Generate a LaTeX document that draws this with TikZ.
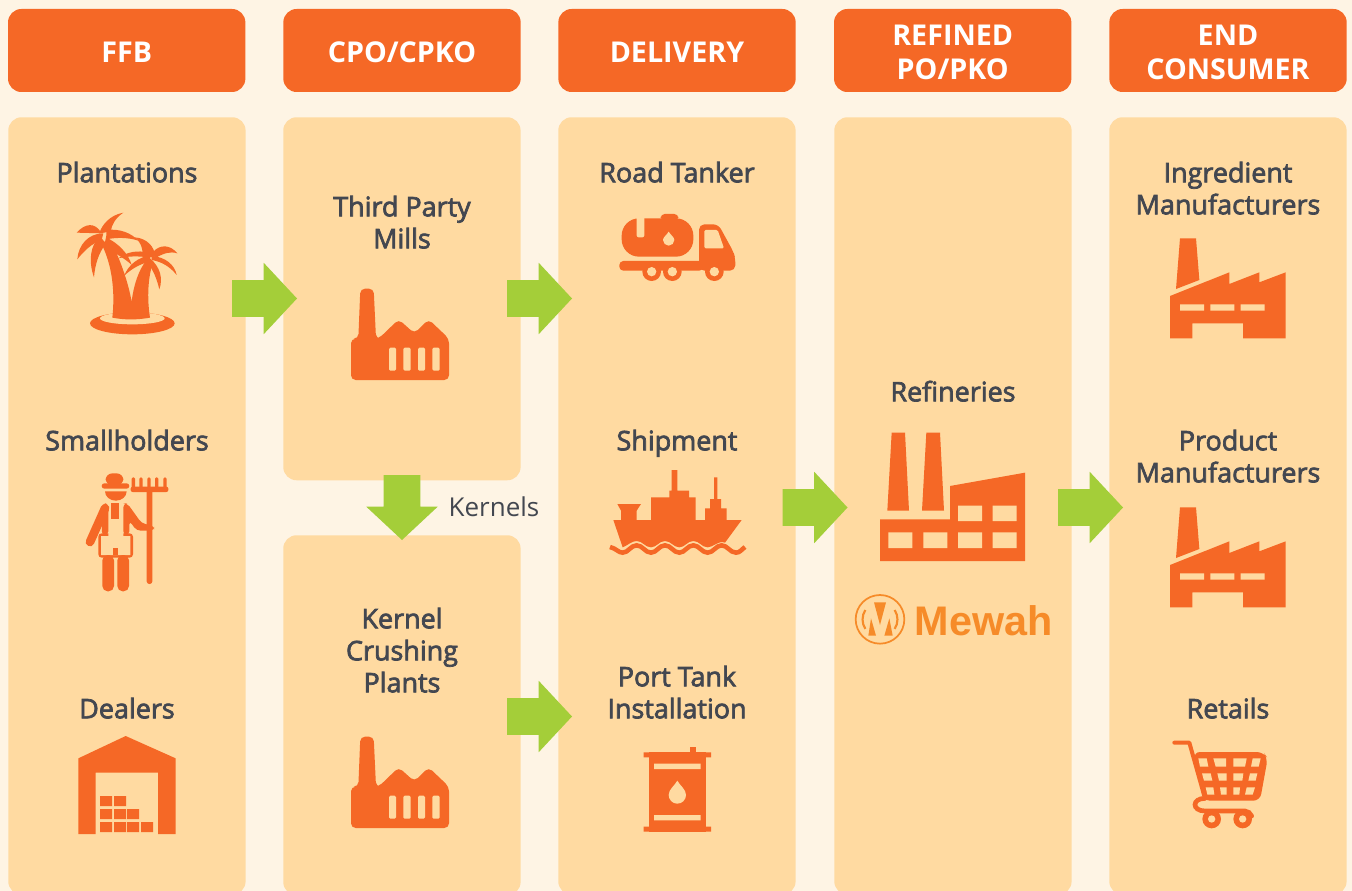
\documentclass[tikz,border=0pt]{standalone}
\usepackage{fontspec}
\setmainfont{Open Sans}
\newfontfamily\labelfont[FakeBold=2.6]{Open Sans}
\newfontfamily\logofont{Liberation Sans}
\usetikzlibrary{shapes.arrows}
\definecolor{bgcream}{HTML}{FEF4E4}
\definecolor{panelsand}{HTML}{FFDAA1}
\definecolor{barorange}{HTML}{F56826}
\definecolor{arrowgreen}{HTML}{A4CE39}
\definecolor{labelgrey}{HTML}{434750}
\definecolor{logoorange}{HTML}{F68B29}
\tikzset{
  zoomed/.style={shift={(#1)},x=.25pt,y=-.25pt},
  headbox/.style={fill=barorange,rounded corners=10pt,minimum width=178pt,minimum height=62.25pt,inner sep=0pt},
  headtext/.style={text=white,inner sep=0pt,align=center,yshift=-1.5pt,font=\fontsize{21.5}{25}\selectfont\bfseries},
  panel/.style={fill=panelsand,rounded corners=10pt,minimum width=178pt,anchor=north west,inner sep=0pt},
  label/.style={text=labelgrey,align=center,inner sep=0pt,text depth=0pt,yshift=.7pt,font=\fontsize{20.2}{24}\labelfont},
  flow/.style={fill=arrowgreen,single arrow,single arrow head extend=13.1pt,single arrow tip angle=94,anchor=tail,
    minimum height=48.75pt,text height=27pt,text depth=0pt,inner sep=0pt,outer sep=0pt},
  pics/millplant/.style={code={
    \begin{scope}[x=.25pt,y=-.25pt]
    \fill[barorange,rounded corners=3.5pt] (63,300) -- (63,176) -- (85,176) -- (91,26) -- (131,26) -- (138,176) -- (146,176)
      -- (206,118) -- (253,160) -- (296,118) -- (357,176) -- (357,300) -- cycle;
    \fill[panelsand,rounded corners=1pt] (177,203) rectangle (198,272) (220,203) rectangle (242,272)
      (264,203) rectangle (285,272) (307,203) rectangle (329,272);
    \end{scope}}},
  pics/makerplant/.style={code={
    \begin{scope}[x=.25pt,y=-.25pt]
    \fill[barorange] (90,55) -- (138,55) -- (148,180) -- (78,207) -- cycle;
    \fill[barorange] (60,228) -- (238,157) -- (238,192) -- (328,157) -- (328,187) -- (407,157) -- (407,355)
      -- (279,355) -- (279,310) -- (127,310) -- (127,355) -- (60,355) -- cycle;
    \fill[panelsand] (90,253) rectangle (162,272) (181,253) rectangle (253,272) (272,253) rectangle (344,272);
    \end{scope}}}
}
\begin{document}
\begin{tikzpicture}[x=.75pt,y=-.75pt]
\useasboundingbox (0,0) rectangle (1352,891);
\clip (0,0) rectangle (1352,891);
\fill[bgcream] (0,0) rectangle (1352,891);
% headers
\node[headbox] (headFFB) at (126.7,50.5) {};
\node[headbox] (headCPO) at (402,50.5) {};
\node[headbox] (headDelivery) at (677,50.5) {};
\node[headbox] (headRefined) at (952.7,50.5) {};
\node[headbox] (headEnd) at (1228,50.5) {};
\node[headtext] (textFFB) at (headFFB) {FFB};
\node[headtext] (textCPO) at (headCPO) {CPO/CPKO};
\node[headtext] (textDelivery) at (headDelivery) {DELIVERY};
\node[headtext] (textRefined) at (headRefined) {REFINED\\PO/PKO};
\node[headtext] (textEnd) at (headEnd) {END\\CONSUMER};
% panels
\node[panel,minimum height=583pt] (panelFFB) at (8,117) {};
\node[panel,minimum height=272.25pt] (panelMills) at (283,117) {};
\node[panel,minimum height=270pt] (panelKernel) at (283,535) {};
\node[panel,minimum height=583pt] (panelDelivery) at (558,117) {};
\node[panel,minimum height=583pt] (panelRefined) at (834,117) {};
\node[panel,minimum height=583pt] (panelEnd) at (1109,117) {};
% labels
\node[label] (plantations) at (127,173) {Plantations};
\node[label] (smallholders) at (127,441) {Smallholders};
\node[label] (dealers) at (127,709) {Dealers};
\node[label] (mills) at (402,223) {Third Party\\Mills};
\node[label] (crushing) at (402,651) {Kernel\\Crushing\\Plants};
\node[label] (tanker) at (677,173) {Road Tanker};
\node[label] (shipment) at (677,441) {Shipment};
\node[label] (tank) at (677,693) {Port Tank\\Installation};
\node[label] (refineries) at (953,392) {Refineries};
\node[label] (ingredient) at (1228,189) {Ingredient\\Manufacturers};
\node[label] (product) at (1228,457) {Product\\Manufacturers};
\node[label] (retails) at (1228,709) {Retails};
\node[label,font=\fontsize{19.5}{24}\selectfont] (kernels) at (494,508) {Kernels};
% arrows
\node[flow] (flowA) at (232,298.5) {};
\node[flow] (flowB) at (507,298.5) {};
\node[flow] (flowC) at (507,716.5) {};
\node[flow] (flowD) at (782.5,507.5) {};
\node[flow] (flowE) at (1058,507.5) {};
\node[flow,rotate=270] (flowF) at (402,475) {};
% palm trees
\begin{scope}[zoomed={0,150}]
\fill[barorange] (397,520) ellipse (127 and 33);
\fill[panelsand] (397,505) ellipse (97 and 18);
\fill[barorange] (337,503) .. controls (345,430) and (338,350) .. (306,285) -- (338,285)
  .. controls (365,340) and (385,400) .. (395,455) .. controls (400,410) and (415,360) .. (440,330) -- (458,340)
  .. controls (445,380) and (440,440) .. (450,503) .. controls (410,510) and (375,510) .. (337,503) -- cycle;
\fill[barorange] (298,250) .. controls (305,225) and (330,195) .. (370,188) .. controls (345,205) and (335,225) .. (332,245) -- cycle;
\fill[barorange] (230,248) .. controls (255,220) and (285,215) .. (305,250) -- cycle;
\fill[barorange] (320,240) .. controls (360,235) and (395,250) .. (415,272) .. controls (385,262) and (350,262) .. (318,268) -- cycle;
\fill[barorange] (232,328) .. controls (235,285) and (265,250) .. (310,250) -- (305,270) .. controls (275,280) and (250,305) .. (232,328) -- cycle;
\fill[barorange] (282,382) .. controls (265,335) and (270,285) .. (300,260) -- (318,280) .. controls (295,310) and (285,345) .. (282,382) -- cycle;
\fill[barorange] (318,262) .. controls (355,280) and (385,310) .. (395,345) .. controls (375,325) and (345,310) .. (312,290) -- cycle;
\fill[barorange] (428,325) .. controls (430,300) and (425,280) .. (405,262) .. controls (440,265) and (465,290) .. (465,320) -- cycle;
\fill[barorange] (460,305) .. controls (480,283) and (510,283) .. (532,310) .. controls (510,303) and (490,310) .. (465,325) -- cycle;
\fill[barorange] (355,325) .. controls (380,305) and (415,300) .. (445,308) -- (445,322) .. controls (415,318) and (385,318) .. (355,325) -- cycle;
\fill[barorange] (372,378) .. controls (385,345) and (415,320) .. (450,318) -- (450,335) .. controls (425,340) and (395,355) .. (372,378) -- cycle;
\fill[barorange] (478,418) .. controls (490,385) and (480,350) .. (450,325) -- (440,335) .. controls (460,360) and (470,385) .. (478,418) -- cycle;
\fill[barorange] (530,375) .. controls (525,345) and (495,320) .. (455,318) -- (455,330) .. controls (485,335) and (510,350) .. (530,375) -- cycle;
\end{scope}
% farmer
\begin{scope}[zoomed={40,460}]
\fill[barorange,rounded corners=5pt] (197,76) -- (197,40) -- (250,40) -- (250,76) -- cycle;
\fill[barorange,rounded corners=2pt] (185,70) rectangle (268,86);
\fill[barorange] (260,94) arc (0:180:32.5 and 28) -- cycle;
% apron
\fill[barorange,rounded corners=2.5pt] (175,220) rectangle (279,293);
\fill[panelsand] (183,228) -- (205,228) -- (205,170) -- (250,170) -- (250,228) -- (271,228) -- (271,285) -- (183,285) -- cycle;
\fill[barorange] (220,264) rectangle (233,285);
% body
\draw[barorange,line width=6.5pt,line cap=round] (195,145) -- (150,246);
\fill[barorange,rounded corners=3pt] (188,130) -- (205,130) -- (205,226) -- (185,226) -- cycle;
\fill[barorange] (214,130) rectangle (238,176);
\fill[barorange,rounded corners=3pt] (250,130) -- (262,130) -- (305,190) -- (342,197) -- (342,212) -- (290,212) -- (268,182) -- (268,226) -- (250,226) -- cycle;
\fill[barorange,rounded corners=4pt] (187,285) -- (187,394) -- (222,394) -- (222,285) -- cycle;
\fill[barorange,rounded corners=4pt] (232,285) -- (232,394) -- (267,394) -- (267,285) -- cycle;
\fill[barorange,rounded corners=2pt] (320,85) rectangle (337,372);
\fill[barorange,rounded corners=1.5pt] (272,80) rectangle (385,96);
\fill[barorange,rounded corners=1pt] (275,52) rectangle (285,85) (298,52) rectangle (308,85)
  (322,52) rectangle (332,85) (345,52) rectangle (355,85) (370,52) rectangle (380,85);
% warehouse
\fill[barorange] (115,895) -- (257,828) -- (407,895) -- (407,1122) -- (354,1122) -- (354,938) -- (167,938) -- (167,1122) -- (115,1122) -- cycle;
\fill[barorange] (180,1008) rectangle (216,1038) (222,1008) rectangle (258,1038)
  (180,1047) rectangle (216,1077) (222,1047) rectangle (258,1077) (261,1047) rectangle (297,1077)
  (180,1086) rectangle (216,1116) (222,1086) rectangle (258,1116) (261,1086) rectangle (297,1116) (303,1086) rectangle (339,1116);
\end{scope}
% mills
\pic at (330,280) {millplant};
\pic at (330,728) {millplant};
% road tanker
\begin{scope}[zoomed={590,200}]
\fill[barorange,rounded corners=3pt] (212,62) -- (212,42) -- (265,42) -- (265,62) -- cycle;
\fill[barorange,rounded corners=13pt] (95,170) rectangle (310,55);
\fill[panelsand,rounded corners=1.5pt] (140,40) rectangle (163,112);
\fill[panelsand] (236,95) .. controls (242,105) and (253,112) .. (253,120) arc (0:180:17) .. controls (219,112) and (230,105) .. (236,95) -- cycle;
\fill[barorange,rounded corners=3pt] (88,183) rectangle (340,212);
\fill[barorange,rounded corners=4pt] (327,212) -- (327,73) -- (385,73) -- (430,155) -- (436,175) -- (436,212) -- cycle;
\fill[panelsand,rounded corners=1pt] (343,90) -- (383,90) -- (402,145) -- (343,145) -- cycle;
\fill[barorange] (185,215) circle (28) (247,215) circle (28) (373,215) circle (28);
\fill[panelsand] (185,215) circle (14) (247,215) circle (14) (373,215) circle (14);
\end{scope}
% ship
\begin{scope}[zoomed={590,460}]
\fill[barorange] (82,132) -- (153,132) -- (140,152) -- (140,182) -- (93,182) -- (93,152) -- cycle;
\fill[barorange] (70,180) -- (183,180) -- (183,112) -- (238,112) -- (238,92) -- (245,92) -- (245,30) -- (262,30) -- (262,92)
  -- (297,92) -- (297,112) -- (317,112) -- (317,180) -- (345,180) -- (345,145) -- (360,145) -- (360,117) -- (372,117) -- (372,52)
  -- (382,52) -- (382,117) -- (393,117) -- (393,145) -- (410,145) -- (410,180) -- (455,180) -- (405,248)
  .. controls (385,240) and (370,262) .. (353,262) .. controls (335,262) and (328,243) .. (310,243)
  .. controls (292,243) and (285,262) .. (268,262) .. controls (250,262) and (243,243) .. (225,243)
  .. controls (207,243) and (200,262) .. (183,262) .. controls (165,262) and (158,243) .. (140,243)
  .. controls (125,243) and (115,255) .. (98,262) -- cycle;
\draw[barorange,line width=3.4pt] (60,261) .. controls (78,265) and (85,278) .. (98,278) .. controls (115,278) and (122,256) .. (140,256)
  .. controls (158,256) and (165,278) .. (183,278) .. controls (200,278) and (207,256) .. (225,256)
  .. controls (243,256) and (250,278) .. (268,278) .. controls (285,278) and (292,256) .. (310,256)
  .. controls (328,256) and (335,278) .. (353,278) .. controls (370,278) and (378,256) .. (395,256)
  .. controls (412,256) and (420,278) .. (438,278) .. controls (450,278) and (455,268) .. (465,261);
\end{scope}
% oil barrel
\begin{scope}[zoomed={620,740}]
\fill[barorange] (211,20) rectangle (227,40);
\fill[barorange] (87,37) rectangle (258,275);
\fill[barorange] (71,37) rectangle (273,52) (71,260) rectangle (273,275);
\fill[panelsand] (102,71) rectangle (242,87) (102,225) rectangle (242,241);
\fill[panelsand] (172,122) .. controls (180,137) and (198,148) .. (198,165) arc (0:180:26) .. controls (146,148) and (164,137) .. (172,122) -- cycle;
\end{scope}
% refinery
\begin{scope}[zoomed={840,420}]
\fill[barorange] (155,38) -- (195,38) -- (207,272) -- (142,272) -- cycle;
\fill[barorange] (259,38) -- (300,38) -- (312,272) -- (246,272) -- cycle;
\fill[barorange] (120,298) -- (330,298) -- (330,198) -- (555,158) -- (555,423) -- (120,423) -- cycle;
\fill[panelsand] (354,257) rectangle (426,303) (458,257) rectangle (530,303)
  (145,337) rectangle (217,384) (250,337) rectangle (322,384) (354,337) rectangle (426,384) (458,337) rectangle (530,384);
\end{scope}
% logo
\begin{scope}[zoomed={850,590}]
\draw[logoorange,line width=1.3pt] (90,88) circle (73);
\draw[logoorange,line width=1.6pt] (46,60) arc (213:147:52);
\draw[logoorange,line width=1.6pt] (134,60) arc (-33:33:52);
\fill[logoorange] (72,37) -- (108,37) -- (90,105) -- cycle;
\fill[logoorange] (63,85) -- (78,137) -- (55,137) -- cycle;
\fill[logoorange] (118,85) -- (128,137) -- (103,137) -- cycle;
\end{scope}
\node[text=logoorange,inner sep=0pt,font=\fontsize{31}{32}\logofont\bfseries] (mewah) at (983.5,620.5) {Mewah};
% maker plants
\pic at (1150,220) {makerplant};
\pic at (1150,489) {makerplant};
% cart
\begin{scope}[zoomed={1150,730}]
\draw[barorange,line width=3pt,line cap=round,line join=round] (73,38) -- (118,38) -- (165,205);
\fill[barorange,rounded corners=5pt] (130,66) -- (340,66) -- (353,85) -- (330,212) -- (160,212) -- cycle;
\fill[panelsand] (145,85) -- (170,85) -- (175,110) -- (150,110) -- cycle (190,85) -- (228,85) -- (228,110) -- (197,110) -- cycle
  (250,85) -- (290,85) -- (285,110) -- (250,110) -- cycle (308,85) -- (332,85) -- (326,110) -- (303,110) -- cycle
  (156,130) -- (182,130) -- (187,152) -- (162,152) -- cycle (202,130) -- (230,130) -- (230,152) -- (207,152) -- cycle
  (250,130) -- (280,130) -- (277,152) -- (250,152) -- cycle (300,130) -- (322,130) -- (317,152) -- (295,152) -- cycle
  (167,172) -- (190,172) -- (193,194) -- (172,194) -- cycle (210,172) -- (230,172) -- (230,194) -- (213,194) -- cycle
  (250,172) -- (270,172) -- (268,194) -- (250,194) -- cycle (290,172) -- (315,172) -- (308,194) -- (285,194) -- cycle;
\draw[barorange,line width=3.5pt,line cap=round] (165,205) .. controls (125,205) and (125,243) .. (165,243) -- (285,243) .. controls (295,243) and (300,250) .. (305,258);
\fill[barorange] (185,267) circle (28) (278,267) circle (28);
\fill[panelsand] (185,267) circle (11) (278,267) circle (11);
\end{scope}
\end{tikzpicture}
\end{document}
